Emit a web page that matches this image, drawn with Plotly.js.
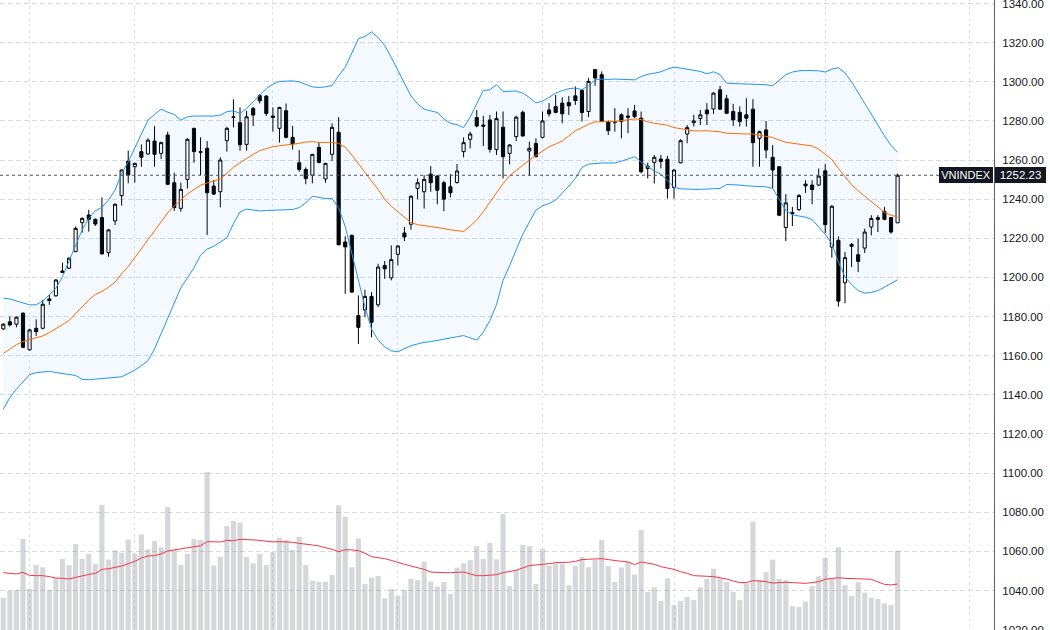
<!DOCTYPE html>
<html>
<head>
<meta charset="utf-8">
<script src="https://cdn.plot.ly/plotly-3.0.1.min.js"></script>
<style>html,body{margin:0;padding:0;background:#fff;}#chart{width:1050px;height:630px;}</style>
</head>
<body>
<div id="chart"></div>
<script>
const symbol = "VNINDEX";
const lastPrice = 1252.23;

const open = [1173.7,1177.3,1176.1,1181.7,1163.0,1174.0,1174.0,1189.0,1190.6,1203.3,1204.7,1213.2,1228.0,1231.9,1229.7,1230.6,1212.7,1228.9,1241.8,1259.5,
1256.6,1264.3,1263.1,1269.7,1263.4,1272.8,1248.4,1235.3,1250.1,1276.2,1264.3,1266.0,1246.7,1243.8,1269.9,1281.8,1279.1,1268.0,1286.4,1292.9,
1292.7,1282.5,1276.2,1285.2,1271.6,1258.6,1255.2,1252.3,1266.5,1250.3,1262.9,1274.2,1218.1,1221.5,1180.5,1183.4,1190.3,1186.0,1206.1,1199.8,
1211.8,1222.7,1227.2,1245.5,1243.8,1252.8,1251.8,1248.4,1246.3,1248.5,1264.3,1270.6,1281.7,1277.9,1280.5,1265.3,1276.8,1263.4,1272.0,1284.4,
1264.6,1268.5,1271.6,1285.6,1287.3,1289.1,1289.4,1292.8,1295.6,1284.8,1306.2,1303.6,1279.7,1279.6,1283.1,1282.5,1285.1,1281.4,1255.7,1258.8,
1260.5,1260.4,1246.0,1258.6,1273.3,1279.1,1281.2,1285.6,1286.1,1295.9,1291.3,1284.8,1284.4,1283.1,1286.0,1271.1,1275.4,1261.4,1256.6,1225.5,
1233.2,1234.7,1247.7,1247.2,1247.2,1254.5,1215.5,1219.0,1197.3,1216.9,1211.6,1215.0,1225.8,1229.6,1233.8,1230.6,1227.9];
const high = [1176.6,1180.0,1180.0,1182.2,1173.8,1178.6,1188.5,1191.1,1199.1,1207.6,1210.3,1226.0,1230.7,1234.5,1230.2,1240.9,1224.6,1237.9,1255.2,1264.8,
1258.6,1268.0,1271.1,1277.4,1269.4,1274.5,1253.5,1248.4,1271.1,1276.5,1271.6,1269.7,1249.8,1261.4,1277.0,1291.0,1286.9,1285.2,1287.2,1293.7,
1293.2,1286.9,1287.2,1288.9,1277.4,1265.1,1256.3,1263.1,1268.9,1258.6,1278.7,1281.9,1221.0,1221.9,1190.8,1193.7,1192.5,1207.0,1208.4,1216.4,
1216.4,1225.8,1242.0,1250.6,1252.3,1256.9,1252.3,1249.4,1252.8,1258.0,1271.6,1274.5,1285.6,1282.6,1283.1,1284.8,1284.8,1268.2,1282.6,1285.3,
1269.4,1271.1,1284.8,1289.1,1293.3,1292.1,1292.8,1297.6,1295.9,1301.9,1306.6,1305.3,1280.2,1286.5,1283.9,1286.5,1288.2,1284.8,1258.6,1262.6,
1262.6,1262.1,1255.2,1270.6,1277.9,1283.1,1285.6,1289.1,1294.7,1297.9,1293.3,1288.7,1287.4,1291.6,1291.1,1275.0,1280.0,1267.7,1256.9,1242.6,
1236.1,1242.6,1249.7,1249.7,1255.7,1257.9,1236.9,1221.0,1213.0,1217.6,1219.8,1224.9,1231.8,1231.8,1236.1,1230.9,1253.0];
const low = [1173.2,1174.9,1174.5,1163.8,1162.6,1170.1,1173.5,1186.0,1190.2,1202.4,1204.3,1212.9,1222.9,1223.4,1226.3,1211.8,1210.6,1226.8,1236.7,1248.1,
1248.4,1256.6,1262.6,1256.6,1260.5,1247.2,1234.0,1233.6,1245.5,1258.6,1252.3,1221.7,1242.1,1235.8,1264.3,1276.7,1264.8,1264.8,1277.4,1288.9,
1282.5,1274.5,1268.9,1271.1,1265.4,1254.0,1247.6,1248.1,1258.3,1248.4,1259.5,1216.4,1191.6,1192.3,1166.0,1179.7,1169.4,1184.8,1199.3,1198.5,
1206.2,1218.6,1224.4,1240.0,1235.2,1243.8,1237.4,1233.8,1240.9,1248.0,1261.4,1266.0,1276.7,1267.2,1263.8,1262.6,1250.6,1257.8,1269.7,1272.0,
1252.0,1261.4,1271.1,1282.2,1283.9,1278.8,1283.1,1288.2,1279.7,1281.9,1298.0,1279.5,1272.8,1274.5,1271.1,1273.7,1281.4,1253.2,1250.6,1248.0,
1255.7,1240.3,1240.3,1258.3,1268.6,1277.1,1277.9,1277.9,1283.6,1285.6,1283.6,1277.4,1277.1,1277.1,1256.6,1256.6,1260.9,1245.5,1231.3,1218.6,
1226.3,1234.0,1243.2,1237.4,1246.7,1222.7,1210.1,1185.1,1186.8,1205.3,1202.7,1212.5,1221.5,1223.2,1229.2,1222.4,1227.9];
const close = [1176.1,1175.7,1179.7,1164.3,1173.2,1172.3,1186.3,1188.2,1198.7,1202.5,1209.8,1225.1,1230.2,1229.7,1227.3,1212.0,1224.3,1237.4,1254.9,1252.3,
1258.3,1261.4,1270.2,1262.9,1268.9,1247.6,1235.7,1245.0,1270.6,1264.3,1264.0,1243.3,1242.6,1260.0,1276.2,1282.0,1267.8,1282.1,1283.0,1290.3,
1283.8,1281.8,1286.9,1271.6,1268.2,1255.2,1250.5,1262.9,1258.8,1258.3,1276.7,1216.7,1215.6,1192.5,1174.5,1190.3,1177.1,1205.3,1204.4,1209.1,
1216.1,1220.7,1241.5,1248.4,1250.1,1248.4,1244.6,1240.0,1243.3,1254.4,1268.9,1273.3,1277.4,1277.3,1265.5,1281.2,1261.7,1267.7,1281.9,1272.3,
1266.0,1261.7,1280.0,1283.6,1284.3,1283.6,1287.7,1290.4,1284.3,1300.2,1301.9,1279.7,1275.0,1279.3,1279.7,1281.9,1282.2,1254.0,1256.9,1261.4,
1259.3,1245.5,1254.9,1269.9,1276.6,1280.0,1283.1,1283.6,1294.2,1286.0,1283.9,1280.5,1279.7,1281.4,1268.9,1274.5,1265.1,1254.9,1231.8,1238.1,
1232.6,1241.9,1246.8,1244.9,1251.8,1227.0,1236.4,1187.9,1210.1,1215.9,1208.2,1223.2,1230.1,1230.6,1229.7,1223.2,1252.23];

const bbUpper = [1189.4,1189.0,1188.0,1186.8,1186.0,1186.0,1188.0,1191.1,1194.5,1200.4,1208.1,1216.6,1224.3,1230.2,1234.1,1235.8,1239.6,1244.7,1253.2,1259.1,
1266.0,1272.8,1280.4,1283.3,1286.0,1284.5,1283.3,1280.4,1282.1,1282.5,1282.5,1282.5,1282.5,1283.0,1284.7,1285.2,1283.8,1286.4,1289.8,1293.2,
1296.6,1298.8,1300.2,1300.3,1300.5,1300.0,1298.5,1297.4,1297.1,1297.4,1298.1,1303.1,1307.4,1314.7,1322.0,1323.2,1325.5,1322.6,1318.6,1312.5,
1306.2,1299.3,1292.8,1288.7,1286.0,1285.1,1284.3,1281.0,1278.8,1278.1,1276.6,1282.0,1289.0,1295.6,1295.9,1298.6,1295.0,1295.1,1295.3,1294.2,
1292.0,1289.2,1290.1,1292.1,1294.2,1295.5,1296.5,1296.8,1296.0,1298.0,1301.0,1301.4,1301.2,1301.4,1301.2,1301.1,1301.0,1302.7,1303.8,1304.4,
1305.1,1306.5,1307.5,1307.0,1306.5,1306.0,1305.3,1304.1,1305.1,1303.6,1299.3,1299.1,1299.0,1299.0,1299.0,1298.8,1298.5,1298.0,1300.7,1303.6,
1305.0,1305.6,1305.8,1305.8,1305.6,1305.0,1306.5,1307.2,1304.5,1300.0,1294.5,1289.0,1283.0,1277.8,1272.4,1267.5,1264.0];
const bbBasis = [1161.2,1163.4,1165.6,1167.3,1168.2,1169.1,1170.1,1171.8,1173.7,1175.9,1178.0,1181.4,1185.1,1188.5,1191.3,1192.8,1195.0,1197.6,1201.9,1205.6,
1210.1,1214.7,1219.5,1224.1,1228.9,1233.0,1236.6,1239.8,1242.6,1244.9,1247.2,1248.3,1249.2,1250.3,1253.2,1256.3,1258.6,1260.9,1262.9,1264.8,
1266.0,1266.8,1267.3,1267.7,1268.0,1268.5,1269.2,1269.4,1269.0,1269.0,1269.0,1268.6,1266.5,1262.6,1258.0,1253.5,1249.2,1245.0,1240.0,1236.4,
1233.5,1231.0,1228.0,1227.0,1226.5,1226.2,1225.8,1225.0,1224.3,1223.8,1223.5,1226.2,1229.4,1233.7,1238.4,1243.7,1248.0,1252.0,1254.9,1257.4,
1260.0,1262.4,1264.6,1266.8,1268.2,1269.7,1272.3,1275.0,1276.6,1278.3,1279.5,1279.7,1279.7,1279.7,1280.2,1280.6,1281.0,1280.7,1279.5,1278.8,
1278.3,1277.8,1276.6,1276.1,1275.4,1274.9,1274.9,1275.0,1274.7,1274.4,1273.7,1273.5,1273.3,1273.3,1273.3,1272.6,1272.2,1271.5,1270.2,1269.1,
1268.6,1268.2,1267.9,1267.2,1265.5,1263.1,1260.3,1255.7,1251.4,1247.5,1244.3,1241.5,1238.6,1236.1,1233.3,1231.8,1230.9];
const bbLower = [1132.6,1138.6,1142.9,1146.7,1150.3,1151.3,1151.6,1152.0,1151.4,1150.9,1150.6,1149.9,1147.9,1147.7,1148.0,1148.4,1148.7,1148.9,1149.2,1150.9,
1152.6,1154.9,1157.4,1163.4,1171.1,1179.7,1187.3,1194.7,1199.8,1204.9,1211.3,1214.5,1215.9,1218.1,1220.3,1227.5,1233.5,1234.9,1234.5,1234.0,
1234.2,1234.4,1234.4,1234.5,1234.7,1235.7,1238.1,1241.5,1240.9,1240.3,1240.3,1235.5,1226.0,1212.0,1198.0,1185.0,1173.5,1168.0,1164.5,1162.5,
1162.0,1163.4,1165.1,1166.0,1166.8,1167.2,1167.8,1168.5,1169.3,1169.8,1170.3,1169.1,1168.0,1172.0,1178.0,1186.0,1198.5,1206.0,1214.0,1222.1,
1228.2,1234.4,1236.6,1237.8,1239.5,1242.9,1246.7,1250.6,1256.2,1257.9,1258.3,1258.5,1258.5,1258.5,1259.4,1260.7,1261.7,1259.0,1256.6,1254.4,
1252.8,1249.4,1246.0,1245.3,1245.0,1245.0,1245.0,1245.1,1245.3,1245.5,1247.5,1247.4,1247.2,1246.8,1246.7,1246.5,1246.3,1245.5,1240.0,1234.2,
1232.0,1231.5,1230.8,1229.6,1225.8,1222.0,1217.3,1207.9,1200.2,1196.4,1193.3,1192.0,1192.3,1193.3,1195.0,1196.7,1198.8];

const volume = [205,248,254,578,260,413,398,254,328,451,411,546,451,483,419,794,447,506,491,574,
483,607,512,565,525,781,508,413,483,578,572,1003,409,464,660,692,682,464,423,483,
413,493,586,572,508,591,413,311,305,307,349,792,720,398,582,292,332,343,201,260,
216,254,324,317,434,307,275,305,229,396,423,444,533,451,552,449,737,279,381,540,
533,292,514,409,423,419,284,406,464,398,444,572,406,305,398,434,351,635,241,271,
184,328,159,184,210,190,271,324,389,328,305,241,190,296,688,317,368,447,324,317,
152,146,180,279,341,457,324,525,286,216,305,237,205,197,169,159,504];
const volumeMA = [364,358,356,366,347,345,345,339,330,328,324,334,345,353,360,385,389,396,406,421,
436,457,470,472,483,502,508,516,523,529,535,561,559,559,569,567,576,576,572,569,
565,559,561,561,557,550,546,540,533,523,512,497,510,508,504,487,466,459,453,442,
428,417,406,396,385,368,364,364,364,366,368,356,345,345,347,351,364,373,379,394,
409,413,415,421,428,428,430,436,447,449,449,453,447,440,436,432,415,432,425,417,
402,394,385,370,360,345,345,341,339,332,324,311,301,301,313,311,307,298,301,303,
301,298,296,301,307,322,326,332,328,326,324,324,322,305,290,286,292];

const monthStarts = [4, 20, 41, 60, 82, 102, 125, 147];

const day = close.map((_, i) => i);

const bandFill = 'rgba(33,150,243,0.055)';
const traces = [
  {type:'scatter', mode:'lines', x:day, y:bbLower, line:{color:'#2196f3', width:1}, hoverinfo:'skip'},
  {type:'scatter', mode:'lines', x:day, y:bbUpper, line:{color:'#2196f3', width:1}, fill:'tonexty', fillcolor:bandFill, hoverinfo:'skip'},
  {type:'scatter', mode:'lines', x:day, y:bbBasis, line:{color:'#ff6d00', width:1}, hoverinfo:'skip'},
  {type:'candlestick', x:day, open:open, high:high, low:low, close:close,
   increasing:{line:{color:'#000000', width:1}, fillcolor:'rgba(255,255,255,0)'},
   decreasing:{line:{color:'#000000', width:1}, fillcolor:'#000000'},
   whiskerwidth:0, hoverinfo:'skip'},
  {type:'bar', x:day, y:volume, yaxis:'y2', marker:{color:'rgba(120,123,134,0.3)', line:{width:0}}, width:0.78, hoverinfo:'skip'},
  {type:'scatter', mode:'lines', x:day, y:volumeMA, yaxis:'y2', line:{color:'#f23645', width:1}, hoverinfo:'skip'}
];

const layout = {
  width:1050, height:630,
  margin:{l:0, r:56, t:0, b:0, pad:0},
  paper_bgcolor:'#ffffff', plot_bgcolor:'#ffffff',
  showlegend:false,
  boxgap:0.32,
  xaxis:{range:[-0.5, 150.66], tickvals:monthStarts, showticklabels:false, ticks:'',
         showgrid:true, gridcolor:'#e3e4e8', griddash:'dot', gridwidth:1,
         zeroline:false, showline:false, rangeslider:{visible:false}, fixedrange:true},
  yaxis:{side:'right', range:[1019.8, 1341.8], tick0:1020, dtick:20, tickformat:'.2f',
         showgrid:true, gridcolor:'#d9dadf', griddash:'5px,3px', gridwidth:1,
         zeroline:false, showline:true, linecolor:'#5d606b', linewidth:1,
         ticks:'outside', ticklen:5, tickcolor:'rgba(0,0,0,0)', ticklabeloverflow:'allow',
         tickfont:{family:'Liberation Sans, Arial, sans-serif', size:11.5, color:'#131722'},
         fixedrange:true},
  yaxis2:{overlaying:'y', range:[0, 4000], visible:false, fixedrange:true},
  shapes:[
    {type:'line', xref:'paper', x0:0, x1:1, yref:'y', y0:lastPrice, y1:lastPrice,
     line:{color:'#50535e', width:1, dash:'dot'}, layer:'above'}
  ],
  annotations:[
    {xref:'paper', x:1, xanchor:'right', xshift:-1, yref:'y', y:lastPrice, yanchor:'middle',
     text:symbol, showarrow:false, bgcolor:'#131722', width:54, height:16, borderpad:0, borderwidth:0,
     font:{family:'Liberation Sans, Arial, sans-serif', size:11, color:'#ffffff'}},
    {xref:'paper', x:1, xanchor:'left', xshift:1, yref:'y', y:lastPrice, yanchor:'middle',
     text:lastPrice.toFixed(2), showarrow:false, bgcolor:'#131722', width:51, height:16, borderpad:0, borderwidth:0,
     font:{family:'Liberation Sans, Arial, sans-serif', size:11.5, color:'#ffffff'}}
  ]
};

Plotly.newPlot('chart', traces, layout, {displayModeBar:false, staticPlot:true});
</script>
</body>
</html>
